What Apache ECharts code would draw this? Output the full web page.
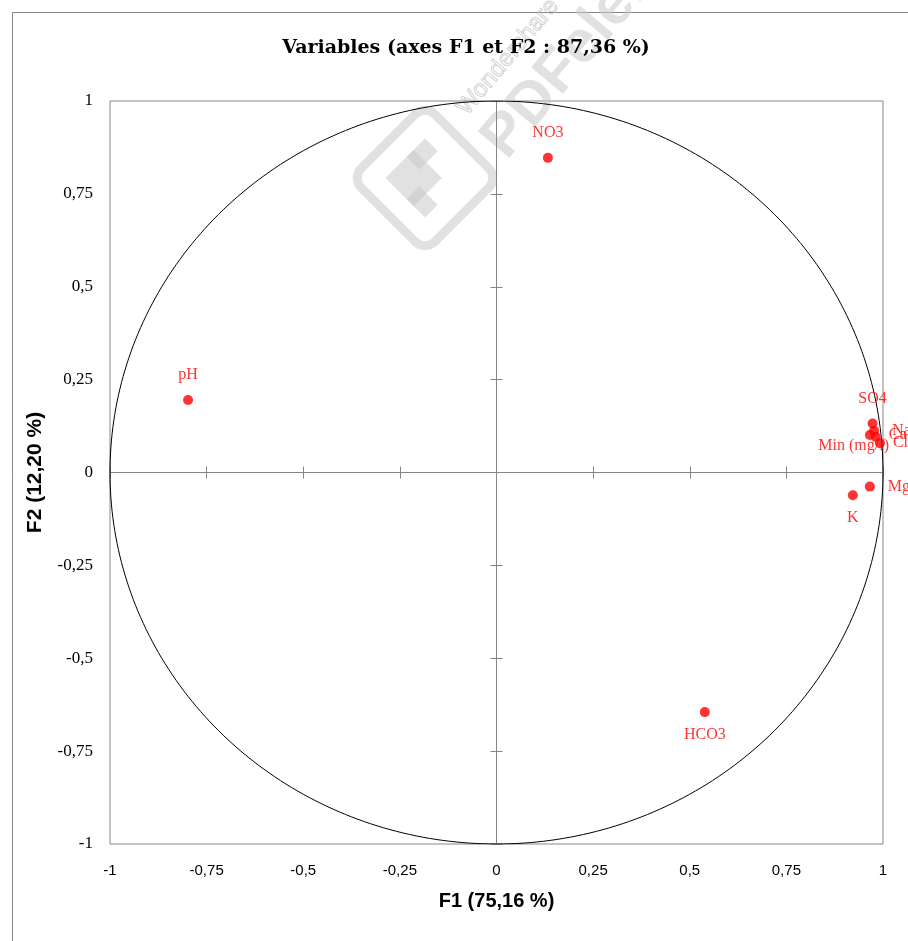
<!DOCTYPE html>
<html>
<head>
<meta charset="utf-8">
<script src="https://cdn.jsdelivr.net/npm/echarts@6/dist/echarts.min.js"></script>
<style>
html,body{margin:0;padding:0;background:#fff;}
#chart{width:908px;height:941px;}
</style>
</head>
<body>
<div id="chart"></div>
<script>
// ---- data ----
const varNames = ['pH', 'NO3', 'HCO3', 'K', 'Mg', 'SO4', 'Na', 'Ca', 'Min (mg/l)', 'Cl'];
const f1Values = [-0.798, 0.133, 0.539, 0.922, 0.966, 0.973, 0.977, 0.966, 0.981, 0.992];
const f2Values = [0.195, 0.847, -0.645, -0.061, -0.038, 0.132, 0.112, 0.101, 0.096, 0.079];
const axisTicks = [-1, -0.75, -0.5, -0.25, 0, 0.25, 0.5, 0.75, 1];
const titleText = 'Variables (axes F1 et F2 : 87,36 %)';
const xName = 'F1 (75,16 %)';
const yName = 'F2 (12,20 %)';

// ---- layout (style only) ----
const G = {left: 110, top: 101, right: 25, bottom: 97};
const plotW = 908 - G.left - G.right;
const plotH = 941 - G.top - G.bottom;

const labelStyles = {
  'pH': {position: 'top', distance: 12},
  'NO3': {position: 'top', distance: 12},
  'SO4': {position: 'top', distance: 12},
  'HCO3': {position: 'bottom', distance: 10},
  'K': {position: 'bottom', distance: 10},
  'Mg': {position: 'right', distance: 13},
  'Na': {position: 'right', distance: 13},
  'Ca': {position: 'right', distance: 14},
  'Min (mg/l)': {position: 'inside', offset: [-22, 9]},
  'Cl': {position: 'right', distance: 8}
};

const points = varNames.map((n, i) => ({
  name: n,
  value: [f1Values[i], f2Values[i]],
  label: labelStyles[n]
}));

// unit correlation circle (reference shape)
const circle = [];
for (let a = 0; a <= 360; a += 1) {
  const r = a * Math.PI / 180;
  circle.push([Math.cos(r), Math.sin(r)]);
}

const fmt = v => String(v).replace('.', ',');
const grey = '#868686';

const chart = echarts.init(document.getElementById('chart'), null, {renderer: 'canvas'});

// centre cross axes: placed at the middle of the plot (value 0) by offset
function crossAxis(position, offset) {
  return {
    type: 'value', min: -1, max: 1, interval: 0.25, position: position, offset: offset,
    axisLine: {show: true, onZero: false, lineStyle: {color: grey, width: 1}},
    axisTick: {show: true, inside: false, length: 6, lineStyle: {color: grey}},
    axisLabel: {show: false},
    splitLine: {show: false}
  };
}

const wm = 'rgba(200,200,200,0.55)';

chart.setOption({
  animation: false,
  backgroundColor: '#fff',
  grid: {left: G.left, top: G.top, right: G.right, bottom: G.bottom, show: true, borderColor: grey, borderWidth: 1, containLabel: false},
  xAxis: [
    {
      type: 'value', min: -1, max: 1, interval: 0.25, position: 'bottom',
      axisLine: {show: false, onZero: false},
      axisTick: {show: false},
      splitLine: {show: false},
      axisLabel: {show: true, margin: 19, formatter: fmt, color: '#000', fontFamily: 'Liberation Sans', fontSize: 15, showMinLabel: true, showMaxLabel: true},
      name: xName, nameLocation: 'middle', nameGap: 47,
      nameTextStyle: {fontFamily: 'Liberation Sans', fontWeight: 'bold', fontSize: 20, color: '#000'}
    },
    crossAxis('top', -plotH / 2),
    crossAxis('bottom', -plotH / 2)
  ],
  yAxis: [
    {
      type: 'value', min: -1, max: 1, interval: 0.25, position: 'left',
      axisLine: {show: false, onZero: false},
      axisTick: {show: false},
      splitLine: {show: false},
      axisLabel: {show: true, margin: 17, formatter: fmt, color: '#000', fontFamily: 'Liberation Serif', fontSize: 17, showMinLabel: true, showMaxLabel: true},
      name: yName, nameLocation: 'middle', nameGap: 64,
      nameTextStyle: {fontFamily: 'Liberation Sans', fontWeight: 'bold', fontSize: 21, color: '#000'}
    },
    crossAxis('left', -plotW / 2),
    crossAxis('right', -plotW / 2)
  ],
  series: [
    {
      type: 'line', data: circle, showSymbol: false, silent: true,
      xAxisIndex: 0, yAxisIndex: 0,
      lineStyle: {color: '#000', width: 1}, z: 1
    },
    {
      type: 'scatter', data: points, xAxisIndex: 0, yAxisIndex: 0,
      symbol: 'circle', symbolSize: 10,
      itemStyle: {color: '#ff0000'},
      label: {show: true, formatter: p => p.name, color: '#ff0000', fontFamily: 'Liberation Serif', fontSize: 16},
      z: 3
    }
  ],
  graphic: [
    {type: 'rect', shape: {x: 12.5, y: 12.5, width: 1000, height: 1000}, style: {fill: 'none', stroke: grey, lineWidth: 1}, silent: true, z: -1},
    // watermark
    {type: 'rect', x: 425, y: 178, rotation: Math.PI / 4,
     shape: {x: -52, y: -52, width: 104, height: 104, r: 14}, style: {fill: 'none', stroke: wm, lineWidth: 9}, silent: true, z: 0},
    {type: 'rect', x: 425, y: 178, rotation: Math.PI / 4,
     shape: {x: -28, y: -28, width: 40, height: 40}, style: {fill: wm}, silent: true, z: 0},
    {type: 'rect', x: 425, y: 178, rotation: Math.PI / 4,
     shape: {x: 2, y: -28, width: 26, height: 18}, style: {fill: wm}, silent: true, z: 0},
    {type: 'rect', x: 425, y: 178, rotation: Math.PI / 4,
     shape: {x: -28, y: 2, width: 18, height: 26}, style: {fill: wm}, silent: true, z: 0},
    {type: 'text', x: 462, y: 112, rotation: Math.PI * 50 / 180, style: {text: 'Wondershare', fontFamily: 'Liberation Sans', fontSize: 24, fill: 'rgba(255,255,255,0)', stroke: 'rgba(180,180,180,0.6)', lineWidth: 1, textAlign: 'left', textVerticalAlign: 'middle'}, silent: true, z: 0},
    {type: 'text', x: 494, y: 150, rotation: Math.PI * 50 / 180, style: {text: 'PDFelement', fontFamily: 'Liberation Sans', fontWeight: 'bold', fontSize: 60, fill: wm, textAlign: 'left', textVerticalAlign: 'middle'}, silent: true, z: 0},
    {type: 'text', x: 466, y: 48, style: {text: titleText, fontFamily: 'DejaVu Serif', fontWeight: 'bold', fontSize: 19, fill: '#000', textAlign: 'center', textVerticalAlign: 'middle'}, z: 5}
  ]
});
</script>
</body>
</html>
